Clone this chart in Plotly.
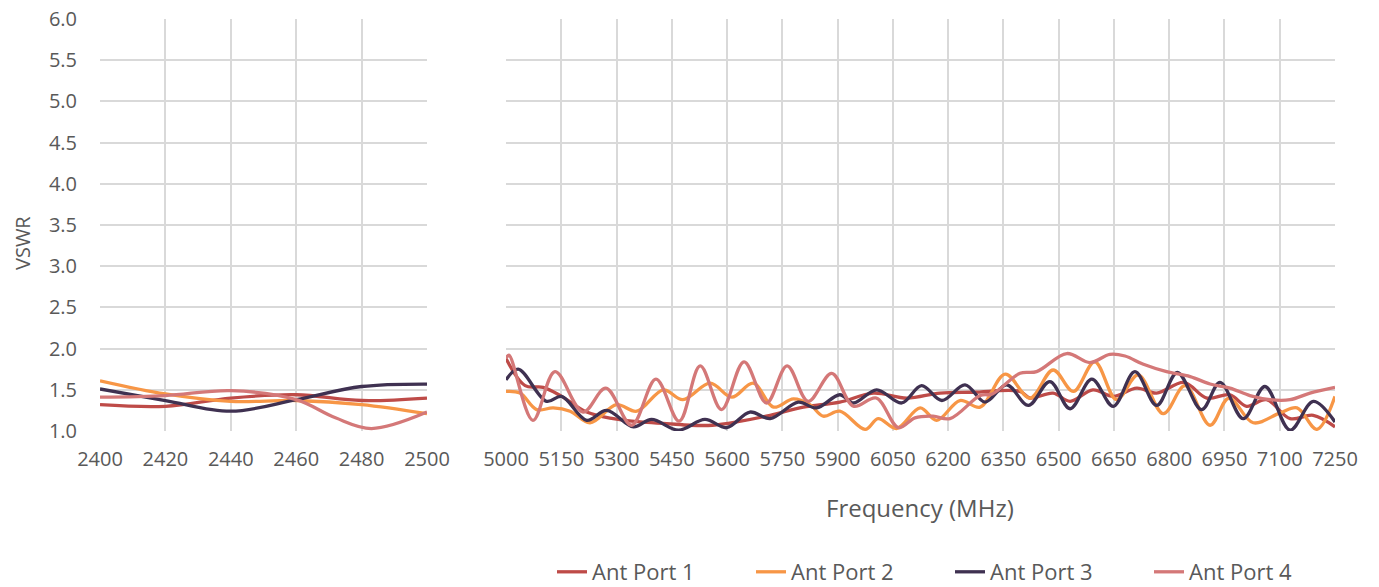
import plotly.graph_objects as go

# 2.4 GHz band
p1_lo_f = [2400, 2420, 2440, 2460, 2480, 2500]
p1_lo_v = [1.32, 1.30, 1.40, 1.44, 1.37, 1.40]
p2_lo_f = [2400, 2420, 2440, 2460, 2480, 2500]
p2_lo_v = [1.61, 1.45, 1.36, 1.37, 1.32, 1.21]
p3_lo_f = [2400, 2420, 2440, 2460, 2480, 2500]
p3_lo_v = [1.51, 1.37, 1.24, 1.38, 1.54, 1.57]
p4_lo_f = [2400, 2420, 2440, 2460, 2472, 2483, 2500]
p4_lo_v = [1.41, 1.43, 1.49, 1.38, 1.16, 1.03, 1.23]

# 5-7 GHz band
p1_hi_f = [5000, 5052, 5101, 5151, 5219, 5291, 5364, 5436, 5500, 5560, 5626, 5717, 5807,
           5906, 5997, 6088, 6178, 6268, 6395, 6422, 6485, 6531, 6593, 6648, 6712, 6766,
           6840, 6902, 6965, 7010, 7064, 7128, 7191, 7250]
p1_hi_v = [1.88, 1.55, 1.53, 1.42, 1.23, 1.15, 1.11, 1.09, 1.07, 1.07, 1.11, 1.19, 1.29,
           1.35, 1.46, 1.40, 1.46, 1.47, 1.48, 1.40, 1.46, 1.36, 1.50, 1.42, 1.52, 1.46,
           1.59, 1.40, 1.44, 1.30, 1.38, 1.15, 1.19, 1.05]
p2_hi_f = [5000, 5038, 5083, 5128, 5174, 5228, 5300, 5355, 5427, 5480, 5554, 5613, 5671,
           5726, 5780, 5825, 5861, 5906, 5975, 6010, 6060, 6124, 6169, 6232, 6287, 6355,
           6422, 6485, 6540, 6598, 6657, 6716, 6784, 6843, 6911, 6962, 7028, 7101, 7147,
           7201, 7250]
p2_hi_v = [1.48, 1.46, 1.26, 1.28, 1.24, 1.10, 1.32, 1.24, 1.50, 1.38, 1.58, 1.41, 1.58,
           1.29, 1.39, 1.32, 1.18, 1.24, 1.02, 1.15, 1.03, 1.28, 1.13, 1.37, 1.29, 1.69,
           1.40, 1.74, 1.48, 1.84, 1.38, 1.68, 1.21, 1.55, 1.07, 1.40, 1.10, 1.22, 1.28,
           1.02, 1.42]
p3_hi_f = [5000, 5033, 5110, 5151, 5219, 5273, 5346, 5395, 5468, 5540, 5599, 5662, 5717,
           5793, 5843, 5906, 5943, 6006, 6074, 6128, 6183, 6246, 6300, 6359, 6418, 6476,
           6531, 6590, 6648, 6707, 6766, 6822, 6888, 6938, 7001, 7060, 7128, 7191, 7250]
p3_hi_v = [1.62, 1.75, 1.36, 1.42, 1.13, 1.25, 1.05, 1.14, 1.01, 1.14, 1.04, 1.23, 1.15,
           1.35, 1.28, 1.44, 1.34, 1.50, 1.34, 1.55, 1.37, 1.56, 1.35, 1.56, 1.31, 1.60,
           1.27, 1.63, 1.30, 1.72, 1.31, 1.71, 1.26, 1.59, 1.15, 1.54, 1.01, 1.36, 1.11]
p4_hi_f = [5000, 5008, 5073, 5133, 5209, 5271, 5341, 5407, 5470, 5527, 5585, 5646, 5707,
           5763, 5820, 5884, 5943, 6005, 6065, 6110, 6159, 6205, 6287, 6320, 6395, 6440,
           6522, 6585, 6639, 6680, 6730, 6793, 6857, 6911, 6965, 7019, 7074, 7128, 7182,
           7250]
p4_hi_v = [1.88, 1.92, 1.13, 1.72, 1.23, 1.52, 1.07, 1.63, 1.12, 1.79, 1.26, 1.84, 1.34,
           1.79, 1.36, 1.70, 1.30, 1.40, 1.04, 1.16, 1.18, 1.15, 1.43, 1.45, 1.70, 1.72,
           1.94, 1.83, 1.93, 1.91, 1.81, 1.72, 1.66, 1.57, 1.52, 1.43, 1.38, 1.38, 1.46,
           1.53]

names = ["Ant Port 1", "Ant Port 2", "Ant Port 3", "Ant Port 4"]
colors = ["#BE4B48", "#F79646", "#3F3151", "#D47878"]
lo = [(p1_lo_f, p1_lo_v), (p2_lo_f, p2_lo_v), (p3_lo_f, p3_lo_v), (p4_lo_f, p4_lo_v)]
hi = [(p1_hi_f, p1_hi_v), (p2_hi_f, p2_hi_v), (p3_hi_f, p3_hi_v), (p4_hi_f, p4_hi_v)]

FONT = "Open Sans, sans-serif"
GREY = "#595959"
GRID = "#D9D9D9"

fig = go.Figure()
for i in range(4):
    fig.add_trace(go.Scatter(x=lo[i][0], y=lo[i][1], mode="lines", name=names[i],
                             legendgroup=names[i],
                             line=dict(color=colors[i], width=3.3, shape="spline", smoothing=1),
                             xaxis="x", yaxis="y"))
    fig.add_trace(go.Scatter(x=hi[i][0], y=hi[i][1], mode="lines", name=names[i],
                             legendgroup=names[i], showlegend=False,
                             line=dict(color=colors[i], width=3.3, shape="spline", smoothing=1),
                             xaxis="x2", yaxis="y2"))

H = 587
W = 1379
ydom = [1 - 431 / H, 1 - 19 / H]
grid_style = dict(showgrid=True, gridcolor=GRID, gridwidth=1.5, zeroline=False, showline=False)
tick_font = dict(family=FONT, size=20, color=GREY)

fig.update_layout(
    width=W, height=H,
    paper_bgcolor="white", plot_bgcolor="white",
    margin=dict(l=0, r=0, t=0, b=0, autoexpand=False),
    font=dict(family=FONT, color=GREY),
    xaxis=dict(domain=[100 / W, 427 / W], range=[2400, 2500], dtick=20, tickangle=0,
               anchor="y", ticklabelstandoff=14, tickfont=tick_font, **grid_style),
    xaxis2=dict(domain=[506 / W, 1335 / W], range=[5000, 7250], tick0=5000, dtick=150,
                tickangle=0, anchor="y2", ticklabelstandoff=14, tickfont=tick_font,
                **grid_style),
    yaxis=dict(domain=ydom, range=[1.0, 6.0], dtick=0.5, tickformat=".1f",
               anchor="x", ticklabelstandoff=22, tickfont=tick_font, **grid_style),
    yaxis2=dict(domain=ydom, range=[1.0, 6.0], dtick=0.5, showticklabels=False,
                anchor="x2", **grid_style),
    legend=dict(orientation="h", x=552 / W, xanchor="left", y=1 - 572 / H, yanchor="middle",
                font=dict(family=FONT, size=22, color=GREY), entrywidth=154,
                bgcolor="rgba(0,0,0,0)"),
    annotations=[
        dict(text="VSWR", x=22 / W, y=1 - 243 / H, xref="paper", yref="paper",
             xanchor="center", yanchor="middle",
             textangle=-90, showarrow=False, font=dict(family=FONT, size=20, color=GREY)),
        dict(text="Frequency (MHz)", x=920 / W, y=1 - 507 / H, xref="paper", yref="paper",
             xanchor="center", yanchor="middle",
             showarrow=False, font=dict(family=FONT, size=24, color=GREY)),
    ],
)

fig.write_html("out.html", config={"displayModeBar": False},
               post_script="document.body.style.margin='0';")
